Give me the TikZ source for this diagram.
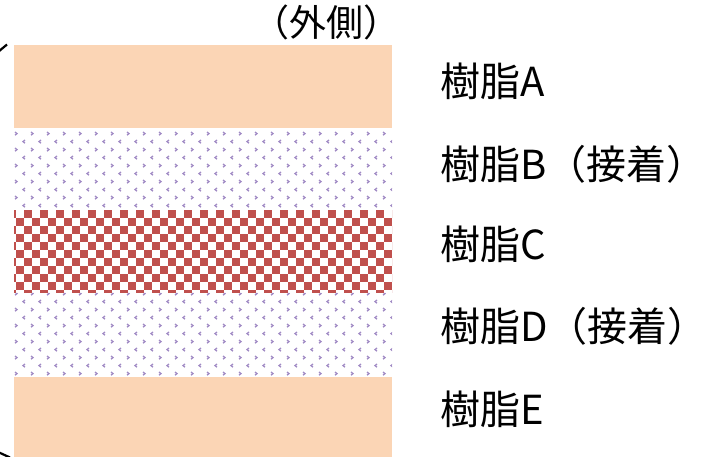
\documentclass[tikz,border=0pt]{standalone}
\usepackage{fontspec}
\setmainfont{Noto Sans CJK JP}
\definecolor{peach}{RGB}{251,213,181}
\definecolor{checkred}{RGB}{192,80,77}
\definecolor{dotlav}{RGB}{160,138,196}
\tikzset{
  lab/.style={anchor=west, inner sep=0pt, font=\fontsize{40}{42}\selectfont},
  toplab/.style={inner sep=0pt, font=\fontsize{37}{39}\selectfont},
  chev/.style={draw=dotlav, line width=1.3pt},
}
\begin{document}
\begin{tikzpicture}[x=1pt,y=-1pt]
\useasboundingbox (0,0) rectangle (710,457);
% top and bottom bands
\fill[peach] (14,45) rectangle (392,128);
\fill[peach] (14,377) rectangle (392,457);
% dotted bands
\begin{scope}
  \clip (14,128) rectangle (392,210) (14,293) rectangle (392,377);
  \foreach \j in {0,...,16}{
    \foreach \i in {0,...,24}{
      \pgfmathsetmacro{\xx}{15+16*\i}
      \pgfmathsetmacro{\yy}{132+16*\j}
      \draw[chev] (\xx,\yy) -- ++(2,1.6) -- ++(-2,1.6);
      \draw[chev] (\xx+10,\yy+8) -- ++(-2,1.6) -- ++(2,1.6);
    }
  }
\end{scope}
% checker band
\begin{scope}
  \clip (14,210) rectangle (392,293);
  \foreach \j in {0,...,10}{
    \foreach \i in {0,...,24}{
      \pgfmathsetmacro{\xx}{16*\i+8*(1-mod(\j,2))}
      \pgfmathsetmacro{\yy}{210+8*\j}
      \fill[checkred] (\xx,\yy) rectangle ++(8,8);
    }
  }
\end{scope}
% left curve ends
\begin{scope}
  \clip (0,0) rectangle (710,457);
  \draw[line width=2.2pt] (-2,52) -- (7,44.5);
  \draw[line width=2.2pt] (-2,452) -- (10,457.5);
\end{scope}
% labels
\node[toplab] (outer) at (326,22) {（外側）};
\node[lab] (la) at (440,81) {樹脂A};
\node[lab] (lb) at (440,164) {樹脂B（接着）};
\node[lab] (lc) at (440,244) {樹脂C};
\node[lab] (ld) at (440,326) {樹脂D（接着）};
\node[lab] (le) at (440,409) {樹脂E};
\end{tikzpicture}
\end{document}
